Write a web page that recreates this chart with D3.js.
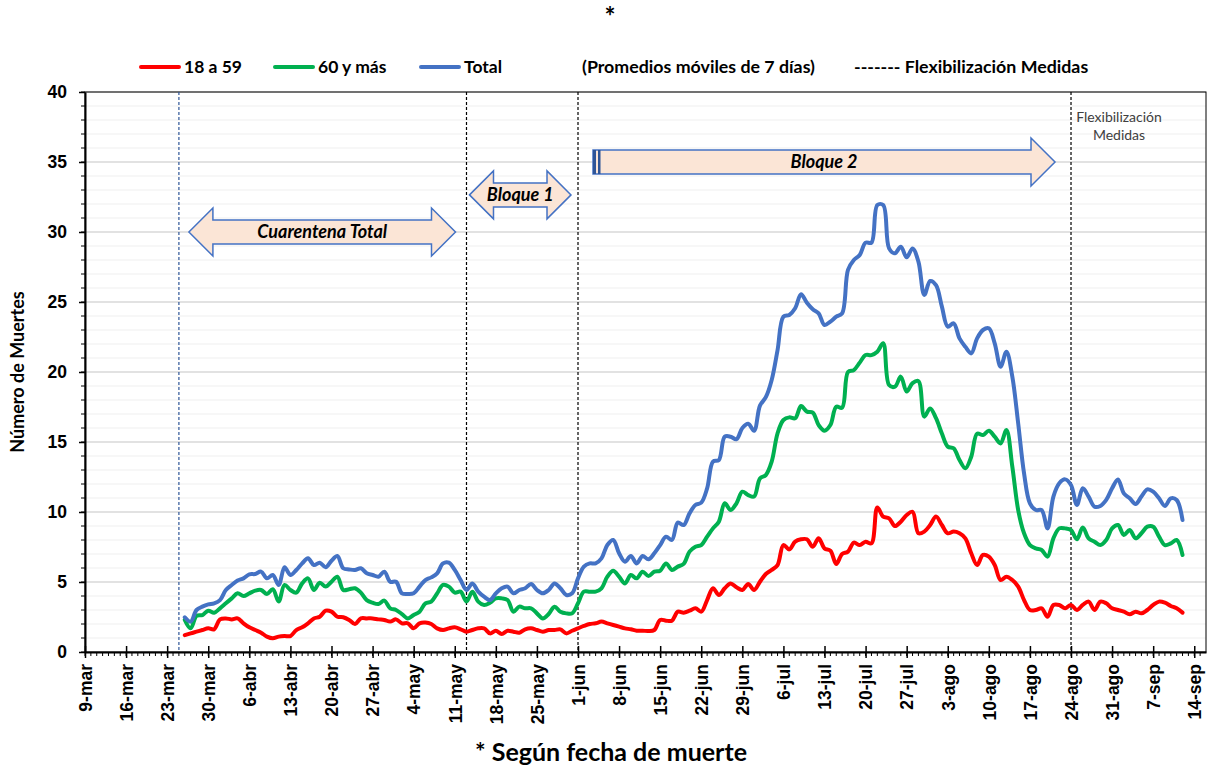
<!DOCTYPE html>
<html>
<head>
<meta charset="utf-8">
<script src="https://cdn.jsdelivr.net/npm/d3@7"></script>
<style>
  body { margin: 0; background: #fff; }
  svg { font-family: Lato, "Open Sans", sans-serif; }
</style>
</head>
<body>
<div id="chart"></div>
<script>
// daily 7-day moving averages, first value = 26-mar-2020
var startDate = new Date(2020, 2, 26);

var total = [
  2.48, 2.17, 3.0, 3.24, 3.4, 3.48, 3.71, 4.43, 4.79, 5.1, 5.26, 5.55, 5.57, 5.74,
  5.26, 5.5, 4.79, 6.05, 5.5, 5.86, 6.33, 6.69, 6.21, 6.38, 6.05, 6.52, 6.86, 5.98,
  5.9, 5.86, 5.98, 5.62, 5.5, 5.38, 5.74, 5.02, 5.02, 4.19, 4.14, 4.19, 4.67, 5.14,
  5.33, 5.62, 6.33, 6.38, 5.86, 5.14, 4.43, 4.9, 4.31, 3.95, 3.71, 4.19, 4.55, 4.67,
  4.19, 4.43, 4.55, 4.86, 4.43, 4.19, 4.43, 4.9, 4.55, 4.07, 4.19, 5.26, 6.1, 6.33,
  6.33, 6.69, 7.64, 8.0, 7.05, 6.45, 6.86, 6.33, 6.86, 6.62, 7.05, 7.64, 8.24, 8.0,
  9.24, 9.07, 9.9, 10.5, 10.67, 11.69, 13.6, 13.71, 15.38, 15.38, 15.2, 16.0, 16.3, 15.8,
  17.6, 18.2, 19.43, 21.57, 23.95, 24.07, 24.55, 25.55, 24.95, 24.48, 24.19, 23.36, 23.6, 23.95,
  24.19, 27.29, 28.0, 28.36, 29.24, 29.24, 31.93, 31.93, 28.83, 28.48, 28.95, 28.19, 28.83, 27.88,
  25.5, 26.5, 26.2, 24.67, 23.24, 23.48, 22.4, 21.8, 21.33, 22.4, 23.0, 23.12, 22.05, 20.38,
  21.45, 19.67, 16.33, 12.76, 10.62, 10.14, 10.14, 8.83, 11.1, 12.05, 12.33, 11.93, 10.5, 11.69,
  11.1, 10.38, 10.43, 10.86, 11.69, 12.33, 11.33, 10.98, 10.57, 11.1, 11.62, 11.45, 10.98, 10.43,
  10.98, 10.86, 9.43
];

var mayores = [
  2.3, 1.69, 2.57, 2.64, 2.95, 2.81, 3.12, 3.48, 3.83, 4.19, 4.0, 4.19, 4.38, 4.43,
  4.14, 4.48, 3.6, 4.79, 4.43, 4.24, 4.9, 5.26, 4.43, 4.95, 4.67, 5.02, 5.38, 4.43,
  4.48, 4.55, 4.24, 3.71, 3.52, 3.43, 3.67, 3.12, 3.0, 2.71, 2.4, 2.64, 2.88, 3.48,
  3.6, 4.19, 4.79, 4.67, 4.24, 4.31, 3.6, 4.31, 3.6, 3.36, 3.52, 3.83, 3.83, 3.71,
  2.88, 3.24, 3.12, 3.12, 2.76, 2.4, 2.71, 3.24, 2.88, 2.76, 2.76, 3.48, 4.31, 4.31,
  4.31, 4.55, 5.38, 5.81, 5.38, 4.9, 5.5, 5.26, 5.74, 5.43, 5.74, 5.81, 6.33, 5.86,
  6.1, 6.29, 7.17, 7.52, 7.64, 8.24, 8.83, 9.31, 10.62, 10.14, 10.62, 11.45, 11.21, 11.1,
  12.4, 12.64, 13.6, 15.62, 16.57, 16.76, 16.69, 17.57, 17.17, 17.1, 16.21, 15.81, 16.21, 17.52,
  17.45, 20.0, 20.14, 20.67, 21.21, 21.21, 21.45, 22.05, 19.07, 18.95, 19.67, 18.6, 19.2, 19.35,
  16.81, 17.4, 16.7, 15.6, 14.67, 14.55, 13.71, 13.12, 13.95, 15.6, 15.5, 15.8, 15.38, 14.9,
  15.86, 13.24, 10.14, 8.48, 7.64, 7.4, 7.29, 6.81, 8.12, 8.83, 8.83, 8.71, 8.05, 8.9,
  8.12, 7.88, 7.64, 8.0, 8.83, 9.07, 8.36, 8.71, 8.12, 8.48, 8.95, 8.95, 8.24, 7.64,
  7.76, 8.0, 6.93
];

var jovenes = [
  1.2, 1.33, 1.45, 1.57, 1.69, 1.62, 2.33, 2.4, 2.33, 2.4, 2.05, 1.76, 1.57, 1.38,
  1.1, 0.98, 1.1, 1.14, 1.14, 1.57, 1.76, 2.05, 2.4, 2.52, 2.95, 2.88, 2.52, 2.48,
  2.29, 2.0, 2.4, 2.4, 2.4, 2.33, 2.29, 2.17, 2.33, 2.05, 2.05, 1.69, 2.05, 2.1,
  2.0, 1.69, 1.57, 1.69, 1.76, 1.62, 1.45, 1.57, 1.69, 1.69, 1.33, 1.52, 1.29, 1.52,
  1.45, 1.38, 1.62, 1.69, 1.57, 1.45, 1.57, 1.57, 1.62, 1.33, 1.52, 1.69, 1.86, 2.0,
  2.05, 2.17, 2.05, 1.93, 1.81, 1.69, 1.62, 1.52, 1.52, 1.5, 1.57, 2.29, 2.24, 2.24,
  2.88, 2.81, 2.95, 3.12, 2.88, 3.71, 4.55, 4.07, 4.55, 4.9, 4.62, 4.43, 4.86, 4.43,
  5.02, 5.57, 5.86, 6.21, 7.64, 7.33, 7.88, 8.05, 8.05, 7.52, 8.12, 7.4, 7.24, 6.29,
  7.0, 7.17, 7.81, 7.64, 7.88, 7.76, 10.33, 9.67, 9.55, 9.0, 9.31, 9.79, 10.02, 8.48,
  8.6, 9.07, 9.67, 9.07, 8.48, 8.6, 8.48, 8.12, 7.05, 6.21, 6.93, 6.81, 6.21, 5.14,
  5.38, 5.14, 4.67, 3.71, 3.0, 3.0, 3.12, 2.52, 3.36, 3.36, 3.12, 3.36, 3.0, 3.36,
  3.6, 3.0, 3.6, 3.48, 3.12, 3.0, 2.88, 2.69, 2.88, 2.76, 3.0, 3.36, 3.6, 3.52,
  3.29, 3.12, 2.81
];

var tickLabels = ["9-mar","16-mar","23-mar","30-mar","6-abr","13-abr","20-abr","27-abr",
  "4-may","11-may","18-may","25-may","1-jun","8-jun","15-jun","22-jun","29-jun","6-jul",
  "13-jul","20-jul","27-jul","3-ago","10-ago","17-ago","24-ago","31-ago","7-sep","14-sep"];
var yTicks = [0, 5, 10, 15, 20, 25, 30, 35, 40];

var series = [
  {name: "18 a 59", values: jovenes, color: "#FF0000"},
  {name: "60 y más", values: mayores, color: "#00B050"},
  {name: "Total", values: total, color: "#4472C4"}
];

// measure dates (vertical dashed lines)
var medidas = [
  {date: new Date(2020, 2, 25), color: "#2F5597"},
  {date: new Date(2020, 4, 13), color: "#000"},
  {date: new Date(2020, 5, 1), color: "#000"},
  {date: new Date(2020, 7, 24), color: "#000"}
];

var width = 1212, height = 767;
var pLeft = 85, pRight = 1206, pTop = 92, pBottom = 652;

var x = d3.scaleTime()
  .domain([new Date(2020, 2, 9), new Date(2020, 8, 16)])
  .range([pLeft, pRight]);
var y = d3.scaleLinear().domain([0, 40]).range([pBottom, pTop]);

var svg = d3.select("#chart").append("svg")
  .attr("width", width)
  .attr("height", height);

// gridlines
svg.append("g").selectAll("line")
  .data(d3.range(1, 41))
  .enter().append("line")
  .attr("x1", pLeft).attr("x2", pRight)
  .attr("y1", function(d) { return y(d); })
  .attr("y2", function(d) { return y(d); })
  .attr("stroke", function(d) { return d % 5 == 0 ? "#D9D9D9" : "#EFEFEF"; })
  .attr("stroke-width", function(d) { return d % 5 == 0 ? 1.5 : 1.2; });

svg.append("rect")
  .attr("x", pLeft).attr("y", pTop)
  .attr("width", pRight - pLeft).attr("height", pBottom - pTop)
  .attr("fill", "none").attr("stroke", "#000").attr("stroke-width", 1);

// dashed lines
svg.append("g").selectAll("line")
  .data(medidas)
  .enter().append("line")
  .attr("x1", function(d) { return x(d.date); })
  .attr("x2", function(d) { return x(d.date); })
  .attr("y1", pTop).attr("y2", pBottom)
  .attr("stroke", function(d) { return d.color; })
  .attr("stroke-width", 1.2)
  .attr("stroke-dasharray", "3,2");

// axes
var tickDates = tickLabels.map(function(t, i) { return d3.timeDay.offset(x.domain()[0], 7 * i); });
var dayTicks = d3.timeDay.range(x.domain()[0], x.domain()[1]);

svg.append("g").selectAll("line")
  .data(dayTicks)
  .enter().append("line")
  .attr("x1", function(d) { return x(d); })
  .attr("x2", function(d) { return x(d); })
  .attr("y1", pBottom).attr("y2", pBottom + 4)
  .attr("stroke", "#000").attr("stroke-width", 1);

svg.append("g").selectAll("line")
  .data(d3.range(0, 41))
  .enter().append("line")
  .attr("x1", pLeft - 4).attr("x2", pLeft)
  .attr("y1", function(d) { return y(d); })
  .attr("y2", function(d) { return y(d); })
  .attr("stroke", "#000").attr("stroke-width", 1);

var xAxis = svg.append("g")
  .attr("transform", "translate(0," + pBottom + ")")
  .call(d3.axisBottom(x).tickValues(tickDates)
    .tickFormat(function(d, i) { return tickLabels[i]; })
    .tickSizeOuter(0).tickSizeInner(6));
xAxis.select(".domain").attr("stroke-width", 2);
xAxis.selectAll(".tick line").attr("y1", -6).attr("stroke-width", 1.5);
xAxis.selectAll(".tick text")
  .attr("transform", "rotate(-90)")
  .attr("text-anchor", "end")
  .attr("x", -12).attr("y", 0).attr("dy", "0.36em")
  .style("font-size", "17.5px").style("font-weight", "bold").attr("fill", "#000");

var yAxis = svg.append("g")
  .attr("transform", "translate(" + pLeft + ",0)")
  .call(d3.axisLeft(y).tickValues(yTicks).tickSizeOuter(0).tickSizeInner(6).tickPadding(12));
yAxis.select(".domain").attr("stroke-width", 2);
yAxis.selectAll(".tick line").attr("stroke-width", 1.5);
yAxis.selectAll(".tick text")
  .style("font-size", "17.5px").style("font-weight", "bold").attr("fill", "#000");

svg.append("text")
  .attr("transform", "translate(18," + (pTop + pBottom) / 2 + ") rotate(-90)")
  .attr("text-anchor", "middle")
  .attr("dy", "0.35em")
  .style("font-size", "18px").style("font-weight", "bold")
  .text("Número de Muertes");

// annotation arrows
var arrows = [
  {label: "Cuarentena Total", from: medidas[0].date, to: medidas[1].date, dx0: 10, dx1: -11, value: 30, both: true},
  {label: "Bloque 1", from: medidas[1].date, to: medidas[2].date, dx0: 3, dx1: -7, value: 32.65, both: true},
  {label: "Bloque 2", from: medidas[2].date, to: medidas[3].date, dx0: 15, dx1: -16, value: 35, both: false}
];

var bh = 12, hh = 24, hl = 24;
arrows.forEach(function(a) {
  var x0 = x(a.from) + a.dx0, x1 = x(a.to) + a.dx1, cy = y(a.value);
  var pts;
  if (a.both) {
    pts = [[x0, cy], [x0 + hl, cy - hh], [x0 + hl, cy - bh], [x1 - hl, cy - bh], [x1 - hl, cy - hh],
      [x1, cy], [x1 - hl, cy + hh], [x1 - hl, cy + bh], [x0 + hl, cy + bh], [x0 + hl, cy + hh]];
  } else {
    pts = [[x0, cy - bh], [x1 - hl, cy - bh], [x1 - hl, cy - hh], [x1, cy],
      [x1 - hl, cy + hh], [x1 - hl, cy + bh], [x0, cy + bh]];
  }
  svg.append("path")
    .attr("d", "M" + pts.join("L") + "Z")
    .attr("fill", "#FBE5D6")
    .attr("stroke", "#4472C4")
    .attr("stroke-width", 1.5);
  if (!a.both) {
    svg.append("rect").attr("x", x0).attr("y", cy - bh).attr("width", 3).attr("height", 2 * bh)
      .attr("fill", "#2F5597");
    svg.append("rect").attr("x", x0 + 5).attr("y", cy - bh).attr("width", 2.5).attr("height", 2 * bh)
      .attr("fill", "#2F5597");
  }
  svg.append("text")
    .attr("x", (x0 + x1) / 2).attr("y", cy)
    .attr("dy", "0.35em")
    .attr("text-anchor", "middle")
    .style("font-size", "18px").style("font-weight", "bold").style("font-style", "italic")
    .text(a.label);
});

svg.append("text")
  .attr("x", x(medidas[3].date) + 48).attr("y", 117)
  .attr("text-anchor", "middle").attr("dy", "0.35em")
  .style("font-size", "14px").attr("fill", "#404040")
  .text("Flexibilización");
svg.append("text")
  .attr("x", x(medidas[3].date) + 48).attr("y", 135)
  .attr("text-anchor", "middle").attr("dy", "0.35em")
  .style("font-size", "14px").attr("fill", "#404040")
  .text("Medidas");

// lines
var line = d3.line()
  .x(function(d, i) { return x(d3.timeDay.offset(startDate, i)); })
  .y(function(d) { return y(d); })
  .curve(d3.curveCatmullRom.alpha(0.5));

svg.append("g").selectAll("path")
  .data(series)
  .enter().append("path")
  .attr("d", function(d) { return line(d.values); })
  .attr("fill", "none")
  .attr("stroke", function(d) { return d.color; })
  .attr("stroke-width", 4)
  .attr("stroke-linejoin", "round")
  .attr("stroke-linecap", "round");

// legend
var legendX = [141, 275, 421];
var legend = svg.append("g").selectAll("g")
  .data(series)
  .enter().append("g")
  .attr("transform", function(d, i) { return "translate(" + legendX[i] + ",67)"; });
legend.append("line")
  .attr("x1", 0).attr("x2", 38)
  .attr("stroke", function(d) { return d.color; })
  .attr("stroke-width", 4).attr("stroke-linecap", "round");
legend.append("text")
  .attr("x", 43).attr("dy", "0.35em")
  .style("font-size", "17.5px").style("font-weight", "bold")
  .text(function(d) { return d.name; });

svg.append("text")
  .attr("x", 582).attr("y", 67).attr("dy", "0.35em")
  .style("font-size", "17.8px").style("font-weight", "bold")
  .text("(Promedios móviles de 7 días)");
svg.append("text")
  .attr("x", 854).attr("y", 67).attr("dy", "0.35em")
  .style("font-size", "17.8px").style("font-weight", "bold")
  .text("------- Flexibilización Medidas");

svg.append("text")
  .attr("x", 610).attr("y", 17).attr("dy", "0.35em")
  .attr("text-anchor", "middle")
  .style("font-size", "26px").style("font-weight", "bold")
  .text("*");

svg.append("text")
  .attr("x", 611).attr("y", 752).attr("dy", "0.35em")
  .attr("text-anchor", "middle")
  .style("font-size", "25px").style("font-weight", "bold")
  .text("* Según fecha de muerte");
</script>
</body>
</html>
